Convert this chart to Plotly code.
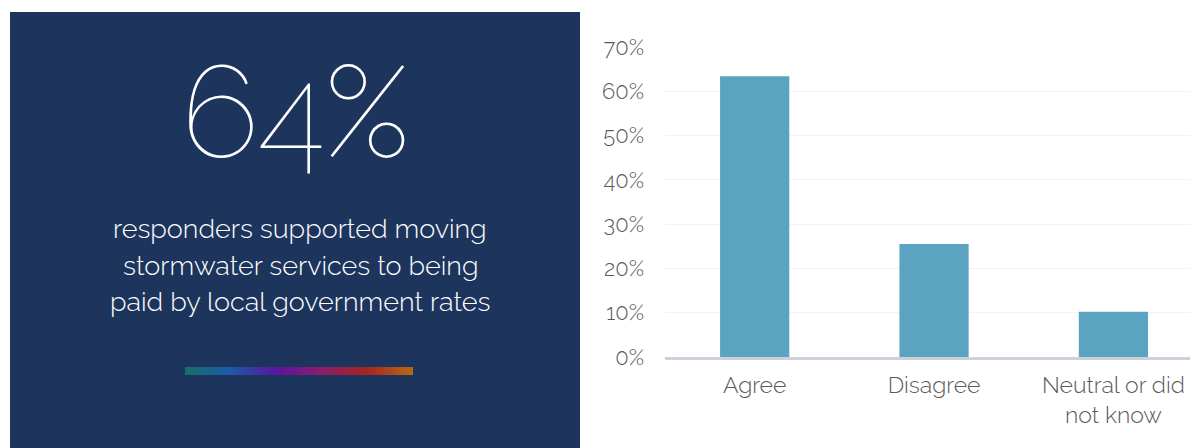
import plotly.graph_objects as go

# ---- data ----
categories = ["Agree", "Disagree", "Neutral or did<br>not know"]
values = [63.4, 25.5, 10.2]
y_ticks = [0, 10, 20, 30, 40, 50, 60, 70]
y_tick_labels = ["0%", "10%", "20%", "30%", "40%", "50%", "60%", "70%"]
headline = "64%"
subtitle_lines = ["responders supported moving",
                  "stormwater services to being",
                  "paid by local government rates"]
gradient_stops = ["#167068", "#1c5aa8", "#5a16a0", "#8a1e6a", "#a8241f", "#b86a14"]

W, H = 1190, 448
PANEL = "#1d355d"
FONT = "Raleway, Lato, Inter, 'Open Sans', sans-serif"

def px_x(x):
    return x / W

def px_y(y):
    return 1 - y / H

fig = go.Figure()
fig.add_trace(go.Bar(
    x=[0, 1, 2], y=values, marker=dict(color="#5ba4c1", line=dict(width=0)),
    width=0.386, hoverinfo="skip",
))

shapes = [dict(type="rect", xref="paper", yref="paper",
               x0=px_x(10), x1=px_x(580), y0=0, y1=px_y(12),
               fillcolor=PANEL, line=dict(width=0), layer="below")]

# gradient bar
def hex2rgb(h):
    h = h.lstrip("#")
    return tuple(int(h[i:i + 2], 16) for i in (0, 2, 4))

n = 80
gx0, gx1, gy0, gy1 = 185, 413, 367, 375
stops = [hex2rgb(c) for c in gradient_stops]
for i in range(n):
    t = (i + 0.5) / n * (len(stops) - 1)
    k = min(int(t), len(stops) - 2)
    f = t - k
    c = tuple(round(stops[k][j] * (1 - f) + stops[k + 1][j] * f) for j in range(3))
    xa = gx0 + (gx1 - gx0) * i / n
    xb = gx0 + (gx1 - gx0) * (i + 1) / n + 0.6
    shapes.append(dict(type="rect", xref="paper", yref="paper",
                       x0=px_x(xa), x1=px_x(min(xb, gx1)), y0=px_y(gy1), y1=px_y(gy0),
                       fillcolor="rgb(%d,%d,%d)" % c, line=dict(width=0)))

annotations = [dict(text=headline, xref="paper", yref="paper",
                    x=px_x(296), y=px_y(112), xanchor="center", yanchor="middle",
                    showarrow=False,
                    font=dict(family=FONT, size=128, color="white", weight=100))]
for i, line in enumerate(subtitle_lines):
    annotations.append(dict(text=line, xref="paper", yref="paper",
                            x=px_x(300), y=px_y(228 + 37 * i), xanchor="center",
                            yanchor="middle", showarrow=False,
                            font=dict(family=FONT, size=27, color="white", weight=300)))

fig.update_layout(
    width=W, height=H, margin=dict(l=0, r=0, t=0, b=0, autoexpand=False),
    paper_bgcolor="white", plot_bgcolor="white", showlegend=False,
    font=dict(family=FONT, color="#595959"),
    bargap=0.6,
    shapes=shapes, annotations=annotations,
    xaxis=dict(domain=[px_x(665), 1], range=[-0.5, 2.427],
               tickvals=[0, 1, 2], ticktext=categories, automargin=False,
               tickfont=dict(size=23, color="#595959", weight=300),
               showline=True, linecolor="#cdd1dc", linewidth=3,
               showgrid=False, zeroline=False, ticks="", ticklabelstandoff=5),
    yaxis=dict(domain=[px_y(357), px_y(47)], range=[0, 70], automargin=False,
               tickvals=y_ticks, ticktext=y_tick_labels,
               tickfont=dict(size=22, color="#595959", weight=300),
               showgrid=True, gridcolor="#f3f3f3", gridwidth=1,
               zeroline=False, ticks="", ticklabelstandoff=20),
)

fig.write_html("out.html", config={"displayModeBar": False},
               post_script="document.body.style.margin='0';document.body.style.overflow='hidden';")
